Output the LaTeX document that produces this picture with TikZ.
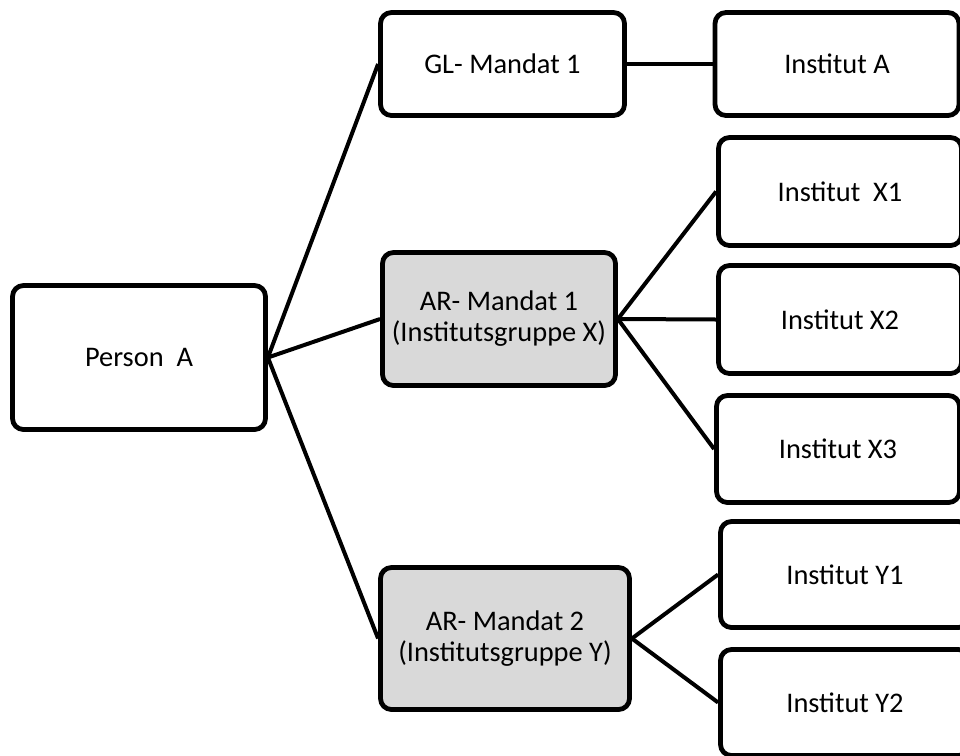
\documentclass[tikz,border=0pt]{standalone}
\usepackage{fontspec}
\setmainfont{Carlito}
\begin{document}
\begin{tikzpicture}[x=0.5pt,y=-0.5pt,
  box/.style={draw,line width=2.4pt,rounded corners=5.5pt,align=center,
    inner sep=0pt,font=\fontsize{14.2}{15.5}\selectfont},
  mandat/.style={box,fill=gray!30},
  link/.style={line width=2pt}]
\clip (0,0) rectangle (960,756);
\node[box,minimum width=126.5pt,minimum height=72pt] (personA) at (139,357.5) {Person~~A};
\node[box,minimum width=122pt,minimum height=51.5pt] (gl) at (502.5,64) {GL- Mandat 1};
\node[mandat,minimum width=116.5pt,minimum height=66.5pt] (ar1) at (499,319) {AR- Mandat 1\\(Institutsgruppe X)};
\node[mandat,minimum width=124.5pt,minimum height=71pt] (ar2) at (505,638.5) {AR- Mandat 2\\(Institutsgruppe Y)};
\node[box,minimum width=122pt,minimum height=51.5pt] (instA) at (837,64) {Institut A};
\node[box,minimum width=121.5pt,minimum height=54pt] (instX1) at (840,191.5) {Institut~~X1};
\node[box,minimum width=121.5pt,minimum height=54pt] (instX2) at (840,319.5) {Institut X2};
\node[box,minimum width=121.5pt,minimum height=53.5pt] (instX3) at (838,449) {Institut X3};
\node[box,minimum width=124.5pt,minimum height=53pt] (instY1) at (845,574.5) {Institut Y1};
\node[box,minimum width=124.5pt,minimum height=53pt] (instY2) at (845,702.5) {Institut Y2};
\draw[link] (personA.east) -- (gl.west);
\draw[link] (personA.east) -- (ar1.west);
\draw[link] (personA.east) -- (ar2.west);
\draw[link] (gl.east) -- (instA.west);
\draw[link] (ar1.east) -- (instX1.west);
\draw[link] (ar1.east) -- (instX2.west);
\draw[link] (ar1.east) -- (instX3.west);
\draw[link] (ar2.east) -- (instY1.west);
\draw[link] (ar2.east) -- (instY2.west);
\end{tikzpicture}
\end{document}
